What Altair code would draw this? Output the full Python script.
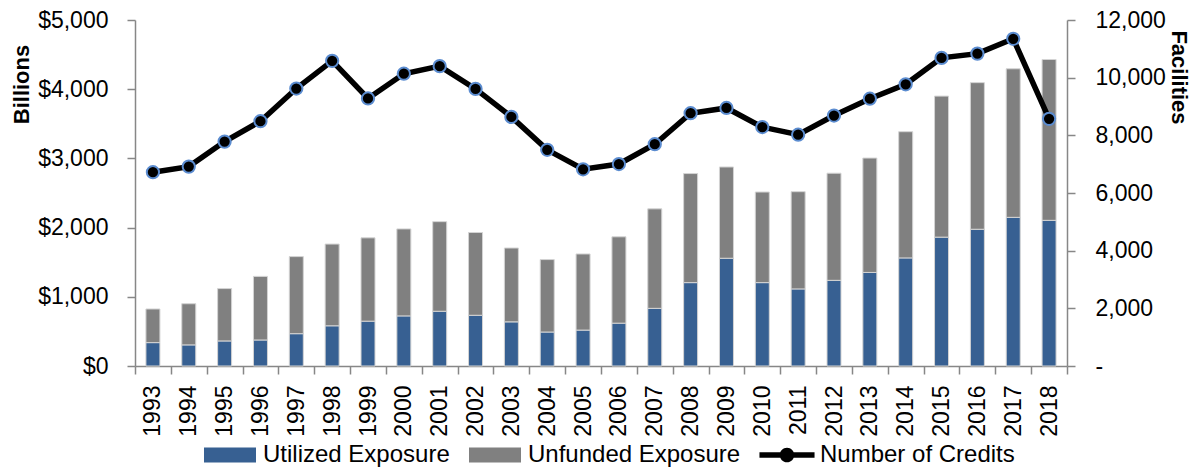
import altair as alt
import pandas as pd

# ---------------- data ----------------
years = [str(y) for y in range(1993, 2019)]
utilized = [338, 305, 362, 376, 467, 581, 648, 724, 791, 733, 638, 491, 519,
            619, 833, 1205, 1557, 1205, 1114, 1238, 1352, 1562, 1862, 1976, 2148, 2105]
unfunded = [486, 595, 757, 919, 1114, 1181, 1204, 1257, 1295, 1196, 1067, 1047, 1100,
            1248, 1438, 1576, 1319, 1309, 1405, 1548, 1653, 1824, 2038, 2119, 2147, 2324]
credits = [6720, 6915, 7783, 8491, 9623, 10583, 9280, 10137, 10400, 9611, 8640, 7497, 6823,
           7005, 7691, 8766, 8949, 8286, 8023, 8686, 9269, 9771, 10686, 10834, 11349, 8571]
series_names = ["Utilized Exposure", "Unfunded Exposure"]
legend_names = ["Utilized Exposure", "Unfunded Exposure", "Number of Credits"]
left_ticks = [0, 1000, 2000, 3000, 4000, 5000]
right_ticks = [0, 2000, 4000, 6000, 8000, 10000, 12000]

# ---------------- style ----------------
BLUE = "#376092"
GRAY = "#808080"
BLACK = "#000000"
RING = "#5b8cd0"
AXIS = "#878787"
FONT = "Liberation Sans"
RECT = "M-0.963,-0.28H0.963V0.28H-0.963Z"
LINESYM = ("M-1.02,-0.1H1.02V0.1H-1.02Z "
           "M-0.27,0A0.27,0.27 0 1,1 0.27,0A0.27,0.27 0 1,1 -0.27,0Z")

bars_df = pd.DataFrame({
    "year": years * 2,
    "series": [series_names[0]] * len(years) + [series_names[1]] * len(years),
    "value": utilized + unfunded,
    "ord": [0] * len(years) + [1] * len(years),
})
line_df = pd.DataFrame({"year": years, "credits": credits})
legend_df = pd.DataFrame({"key": legend_names})

x_enc = alt.X(
    "year:O", sort=years,
    scale=alt.Scale(paddingInner=0, paddingOuter=0),
    axis=alt.Axis(title=None, labelAngle=-90, labelFont=FONT, labelFontSize=23,
                  labelColor="black", labelPadding=11, tickBand="extent",
                  tickSize=8, tickColor=AXIS, tickWidth=1.5,
                  domainColor=AXIS, domainWidth=1.5, grid=False),
)

bars = alt.Chart(bars_df).mark_bar(width=14, stroke="#d4d4d4", strokeWidth=1).encode(
    x=x_enc,
    y=alt.Y("value:Q", stack="zero",
            scale=alt.Scale(domain=[0, 5000], nice=False),
            axis=alt.Axis(values=left_ticks, format="$,.0f", title="Billions",
                          titleFont=FONT, titleFontSize=22, titleFontWeight="bold",
                          titleColor="black", titlePadding=4, titleY=64, titleAlign="center",
                          labelFont=FONT, labelFontSize=23, labelColor="black",
                          labelPadding=19, tickSize=8, tickColor=AXIS, tickWidth=1.5,
                          domainColor=AXIS, domainWidth=1.5, grid=False)),
    color=alt.Color("series:N", scale=alt.Scale(domain=series_names, range=[BLUE, GRAY]),
                    legend=None),
    order=alt.Order("ord:Q", sort="ascending"),
)

right_axis = alt.Axis(orient="right", values=right_ticks,
                      labelExpr="datum.value == 0 ? '-' : format(datum.value, ',')",
                      title="Facilities", titleFont=FONT, titleFontSize=22,
                      titleFontWeight="bold", titleColor="black", titlePadding=1,
                      titleY=57, titleAlign="center",
                      labelFont=FONT, labelFontSize=23, labelColor="black",
                      labelPadding=20, tickSize=8, tickColor=AXIS, tickWidth=1.5,
                      domainColor=AXIS, domainWidth=1.5, grid=False)

line = alt.Chart(line_df).mark_line(color=BLACK, strokeWidth=5.5).encode(
    x=alt.X("year:O", sort=years),
    y=alt.Y("credits:Q", scale=alt.Scale(domain=[0, 12000], nice=False), axis=right_axis),
)

points = alt.Chart(line_df).mark_point(filled=True, fill=BLACK, stroke=RING,
                                       strokeWidth=2, size=150, opacity=1).encode(
    x=alt.X("year:O", sort=years),
    y=alt.Y("credits:Q", scale=alt.Scale(domain=[0, 12000], nice=False), axis=None),
)

leg = alt.Legend(title=None, orient="none", legendX=68, legendY=408,
                 direction="horizontal", symbolSize=2916, symbolStrokeWidth=0,
                 symbolOpacity=1, labelFont=FONT, labelFontSize=24, labelColor="black",
                 labelOffset=6, columnPadding=18, labelLimit=0, padding=0)

legend_layer = alt.Chart(legend_df).transform_filter("false").mark_point(
    filled=True, opacity=1).encode(
    color=alt.Color("key:N", scale=alt.Scale(domain=legend_names, range=[BLUE, GRAY, BLACK]),
                    legend=leg),
    shape=alt.Shape("key:N", scale=alt.Scale(domain=legend_names, range=[RECT, RECT, LINESYM]),
                    legend=leg),
)

chart = alt.layer(bars, line, points, legend_layer).resolve_scale(
    y="independent", color="independent", shape="independent"
).properties(
    width=932, height=346,
    autosize=alt.AutoSizeParams(type="none"),
    padding={"left": 127, "top": 12, "right": 128, "bottom": 102},
).configure_view(stroke=None)

chart.save("out.html", embed_options={"renderer": "svg", "actions": False})
